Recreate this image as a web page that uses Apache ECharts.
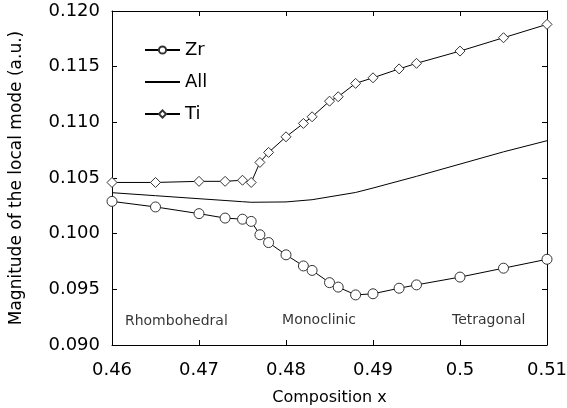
<!DOCTYPE html>
<html>
<head>
<meta charset="utf-8">
<script src="https://cdn.jsdelivr.net/npm/echarts@6/dist/echarts.min.js"></script>
<style>
html, body { margin: 0; padding: 0; background: #fff; }
#chart { width: 567px; height: 408px; }
</style>
</head>
<body>
<div id="chart"></div>
<script>
// composition values
var xPts = [0.46, 0.465, 0.47, 0.473, 0.475, 0.476, 0.477, 0.478, 0.48, 0.482, 0.483,
            0.485, 0.486, 0.488, 0.49, 0.493, 0.495, 0.5, 0.505, 0.51];
var zrVals = [0.1029, 0.1024, 0.1018, 0.1014, 0.1013, 0.1011, 0.0999, 0.0992, 0.0981, 0.0971, 0.0967,
              0.0956, 0.0952, 0.0945, 0.0946, 0.0951, 0.0954, 0.0961, 0.0969, 0.0977];
var tiVals = [0.1046, 0.1046, 0.1047, 0.1047, 0.1048, 0.1046, 0.1064, 0.1073, 0.1087, 0.1099, 0.1105,
              0.1119, 0.1123, 0.1135, 0.1140, 0.1148, 0.1153, 0.1164, 0.1176, 0.1188];
var allX = [0.46, 0.465, 0.47, 0.473, 0.475, 0.476, 0.48, 0.483, 0.488, 0.49, 0.495, 0.5, 0.505, 0.51];
var allVals = [0.10368, 0.10341, 0.10314, 0.10298, 0.10287, 0.10282, 0.10285, 0.10305, 0.10370,
               0.10410, 0.10515, 0.10625, 0.10735, 0.10835];
// phase labels (data coords)
var phaseNames = ['Rhombohedral', 'Monoclinic', 'Tetragonal'];
var phaseX = [0.4674, 0.4838, 0.5033];
var phaseY = [0.0921, 0.0922, 0.0922];

function pairs(xs, ys) {
    var out = [];
    for (var i = 0; i < xs.length; i++) {
        out.push([xs[i], ys[i]]);
    }
    return out;
}

var phaseData = [];
for (var i = 0; i < phaseNames.length; i++) {
    phaseData.push({ name: phaseNames[i], value: [phaseX[i], phaseY[i]] });
}

var font = 'DejaVu Sans';
var chart = echarts.init(document.getElementById('chart'));

var xBase = {
    type: 'value', min: 0.46, max: 0.51, interval: 0.01,
    axisLine: { lineStyle: { color: '#000', width: 1 } },
    axisTick: { inside: true, length: 5, lineStyle: { color: '#000' } },
    splitLine: { show: false }
};
var yBase = {
    type: 'value', min: 0.09, max: 0.12, interval: 0.005,
    axisLine: { lineStyle: { color: '#000', width: 1 } },
    axisTick: { inside: true, length: 5, lineStyle: { color: '#000' } },
    splitLine: { show: false }
};

var option = {
    animation: false,
    grid: { left: 112, right: 20, top: 11, bottom: 63, containLabel: false, outerBoundsMode: 'none' },
    legend: {
        orient: 'vertical',
        left: 139, top: 35,
        itemWidth: 35, itemHeight: 9, itemGap: 12,
        data: ['Zr', { name: 'All', itemStyle: { opacity: 0 } }, 'Ti'],
        textStyle: { fontFamily: font, fontSize: 18, color: '#000', lineHeight: 20 }
    },
    xAxis: [
        Object.assign({}, xBase, {
            position: 'bottom',
            name: 'Composition x', nameLocation: 'middle', nameGap: 45,
            nameTextStyle: { fontFamily: font, fontSize: 16, color: '#000' },
            axisLabel: { fontFamily: font, fontSize: 18, color: '#000', margin: 16 }
        }),
        Object.assign({}, xBase, { position: 'top', axisLabel: { show: false } })
    ],
    yAxis: [
        Object.assign({}, yBase, {
            position: 'left',
            name: 'Magnitude of the local mode (a.u.)', nameLocation: 'middle', nameGap: 87,
            nameTextStyle: { fontFamily: font, fontSize: 17, color: '#000' },
            axisLabel: {
                fontFamily: font, fontSize: 18, color: '#000', margin: 12,
                formatter: function (v) { return v.toFixed(3); }
            }
        }),
        Object.assign({}, yBase, { position: 'right', axisLabel: { show: false } })
    ],
    series: [
        {
            name: 'Zr', type: 'line', data: pairs(xPts, zrVals),
            symbol: 'circle', symbolSize: 10, showAllSymbol: true,
            lineStyle: { color: '#000', width: 1 },
            itemStyle: { color: '#fff', borderColor: '#333', borderWidth: 1 }
        },
        {
            name: 'All', type: 'line', data: pairs(allX, allVals),
            symbol: 'none',
            lineStyle: { color: '#000', width: 1 },
            itemStyle: { color: '#000' }
        },
        {
            name: 'Ti', type: 'line', data: pairs(xPts, tiVals),
            symbol: 'diamond', symbolSize: 10, showAllSymbol: true,
            lineStyle: { color: '#000', width: 1 },
            itemStyle: { color: '#fff', borderColor: '#333', borderWidth: 1 }
        },
        {
            name: 'phase', type: 'scatter', data: phaseData,
            symbolSize: 0, silent: true,
            label: {
                show: true, position: 'inside', formatter: '{b}',
                fontFamily: font, fontSize: 14, color: '#000'
            }
        }
    ]
};
chart.setOption(option);
</script>
</body>
</html>
